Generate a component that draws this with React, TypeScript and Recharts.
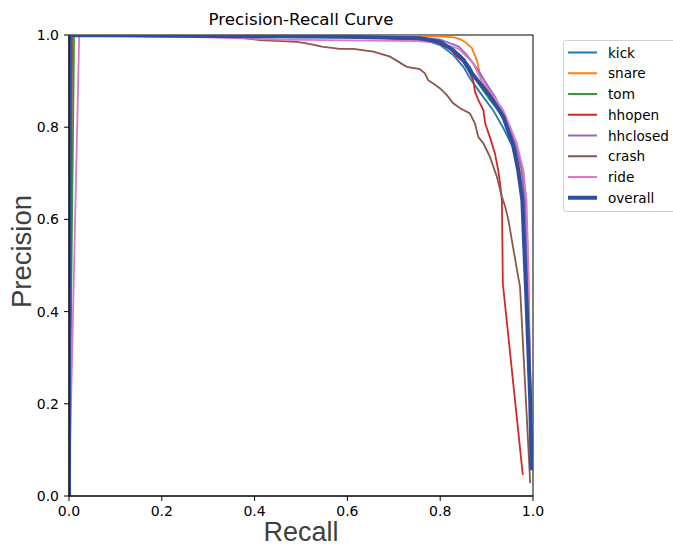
import React from "react";
import { LineChart, Line, XAxis, YAxis, Legend, ReferenceArea } from "recharts";

type Pt = [number, number]; // [recall, precision]

const kick: Pt[] = [[0,0],[0.003,1],[0.3,0.998],[0.6,0.995],[0.72,0.992],[0.771,0.988],[0.8,0.978],[0.828,0.957],[0.85,0.931],[0.864,0.906],[0.886,0.875],[0.914,0.837],[0.935,0.8],[0.955,0.76],[0.97,0.7],[0.98,0.62],[0.988,0.45],[0.994,0.2],[0.997,0.06]];
const snare: Pt[] = [[0,0],[0.005,1],[0.4,0.999],[0.7,0.998],[0.8,0.997],[0.83,0.995],[0.845,0.99],[0.857,0.982],[0.868,0.972],[0.879,0.945],[0.889,0.902],[0.91,0.87],[0.935,0.825],[0.955,0.775],[0.97,0.72],[0.98,0.64],[0.988,0.45],[0.994,0.2],[0.997,0.06]];
const tom: Pt[] = [[0,0],[0.011,1],[0.3,0.998],[0.6,0.995],[0.75,0.992],[0.79,0.985],[0.814,0.978],[0.843,0.957],[0.864,0.931],[0.882,0.895],[0.907,0.859],[0.925,0.837],[0.945,0.8],[0.962,0.76],[0.979,0.707],[0.988,0.55],[0.993,0.3],[0.997,0.06]];
const hhopen: Pt[] = [[0,0],[0.004,1],[0.3,0.998],[0.6,0.996],[0.78,0.99],[0.81,0.975],[0.821,0.971],[0.836,0.953],[0.85,0.942],[0.864,0.917],[0.871,0.902],[0.875,0.877],[0.882,0.859],[0.893,0.837],[0.897,0.808],[0.907,0.779],[0.918,0.743],[0.925,0.707],[0.929,0.678],[0.933,0.642],[0.935,0.461],[0.978,0.046]];
const hhclosed: Pt[] = [[0,0],[0.002,1],[0.3,0.998],[0.6,0.996],[0.76,0.994],[0.8,0.99],[0.84,0.975],[0.857,0.957],[0.871,0.939],[0.886,0.917],[0.893,0.905],[0.918,0.866],[0.94,0.82],[0.96,0.77],[0.975,0.71],[0.984,0.62],[0.99,0.45],[0.995,0.2],[0.997,0.06]];
const crash: Pt[] = [[0,0],[0.007,1],[0.353,0.996],[0.412,0.989],[0.491,0.985],[0.512,0.982],[0.53,0.978],[0.545,0.975],[0.584,0.97],[0.613,0.97],[0.656,0.964],[0.692,0.953],[0.728,0.931],[0.756,0.926],[0.767,0.917],[0.774,0.902],[0.785,0.895],[0.8,0.884],[0.814,0.87],[0.828,0.852],[0.843,0.841],[0.864,0.83],[0.875,0.808],[0.882,0.779],[0.893,0.765],[0.907,0.736],[0.922,0.693],[0.933,0.649],[0.94,0.628],[0.947,0.599],[0.958,0.534],[0.968,0.476],[0.972,0.454],[0.994,0.028]];
const ride: Pt[] = [[0,0],[0.022,1],[0.1,0.998],[0.3,0.995],[0.45,0.99],[0.65,0.988],[0.75,0.987],[0.8,0.983],[0.84,0.97],[0.87,0.94],[0.889,0.902],[0.904,0.882],[0.936,0.837],[0.965,0.765],[0.979,0.707],[0.986,0.642],[0.99,0.5],[0.995,0.2],[0.997,0.06]];
const overall: Pt[] = [[0,0],[0.001,1],[0.3,0.998],[0.6,0.996],[0.756,0.993],[0.8,0.985],[0.828,0.967],[0.85,0.946],[0.868,0.917],[0.886,0.895],[0.907,0.868],[0.936,0.823],[0.958,0.758],[0.968,0.707],[0.977,0.642],[0.986,0.425],[0.994,0.208],[0.997,0.056]];

const seriesNames = ["kick", "snare", "tom", "hhopen", "hhclosed", "crash", "ride", "overall"];
const seriesData = [kick, snare, tom, hhopen, hhclosed, crash, ride, overall];
const seriesColors = ["#1f77b4", "#ff7f0e", "#2ca02c", "#d62728", "#9467bd", "#8c564b", "#e377c2", "#2c4ea3"];
const seriesWidths = [1.8, 1.8, 1.8, 1.8, 1.8, 1.8, 1.8, 4];

const ticks = [0, 0.2, 0.4, 0.6, 0.8, 1.0];
const titleText = "Precision-Recall Curve";
const xLabel = "Recall";
const yLabel = "Precision";

const toRows = (pts: Pt[]) => pts.map(([r, p]) => ({ r, p }));

const tickFont = { fontFamily: "DejaVu Sans", fontSize: 14, fill: "#000" };

const LegendBox = () => (
  <div
    style={{
      width: 114,
      height: 172,
      border: "1px solid #d0d0d0",
      borderRadius: 3,
      background: "#fff",
      boxSizing: "border-box",
    }}
  >
    <svg width={112} height={170} style={{ display: "block" }}>
      {seriesNames.map((n, i) => {
        const y = 11.5 + i * 20.75;
        return (
          <g key={n}>
            <line x1={4} x2={33} y1={y} y2={y} stroke={seriesColors[i]} strokeWidth={seriesWidths[i] === 4 ? 4 : 2} />
            <text x={44} y={y} dominantBaseline="central" fontFamily="DejaVu Sans" fontSize={13.6} fill="#000">
              {n}
            </text>
          </g>
        );
      })}
    </svg>
  </div>
);

export default function App() {
  return (
    <div style={{ position: "absolute", left: 0, top: 0, width: 673, height: 546, overflow: "hidden", background: "#fff" }}>
      <div
        style={{
          position: "absolute",
          left: 69,
          width: 464,
          top: 9,
          textAlign: "center",
          fontFamily: "DejaVu Sans",
          fontSize: 16.7,
          lineHeight: "20px",
          color: "#000",
        }}
      >
        {titleText}
      </div>
      <LineChart width={673} height={546} margin={{ top: 35, right: 140, bottom: 0, left: 0 }}>
        <XAxis
          type="number"
          dataKey="r"
          domain={[0, 1]}
          ticks={ticks}
          allowDataOverflow
          tickFormatter={(v: number) => v.toFixed(1)}
          tick={tickFont}
          tickSize={5}
          tickMargin={5}
          stroke="#000"
          height={50}
          label={{
            content: (props: any) => {
              const vb = props.viewBox || { x: 69, width: 464, y: 496 };
              return (
                <text x={vb.x + vb.width / 2} y={541} textAnchor="middle" fontFamily="Liberation Sans" fontSize={27} fill="#404040">
                  {xLabel}
                </text>
              );
            },
          }}
        />
        <YAxis
          type="number"
          dataKey="p"
          domain={[0, 1]}
          ticks={ticks}
          allowDataOverflow
          tickFormatter={(v: number) => v.toFixed(1)}
          tick={tickFont}
          tickSize={5}
          tickMargin={5}
          stroke="#000"
          width={69}
          label={{
            content: () => (
              <text
                x={31}
                y={251.5}
                textAnchor="middle"
                transform="rotate(-90 31 251.5)"
                fontFamily="Liberation Sans"
                fontSize={27.5}
                fill="#404040"
              >
                {yLabel}
              </text>
            ),
          }}
        />
        {seriesNames.map((n, i) => (
          <Line
            key={n}
            name={n}
            data={toRows(seriesData[i])}
            dataKey="p"
            type="linear"
            stroke={seriesColors[i]}
            strokeWidth={seriesWidths[i]}
            dot={false}
            activeDot={false}
            isAnimationActive={false}
          />
        ))}
        <ReferenceArea x1={0} x2={1} y1={0} y2={1} fill="none" fillOpacity={0} stroke="#000" strokeWidth={1} ifOverflow="visible" />
        <Legend
          layout="horizontal"
          verticalAlign="middle"
          align="center"
          wrapperStyle={{ position: "absolute", left: 563, top: 40, width: 114, height: 172, right: "auto", bottom: "auto" }}
          content={() => <LegendBox />}
        />
      </LineChart>
    </div>
  );
}
